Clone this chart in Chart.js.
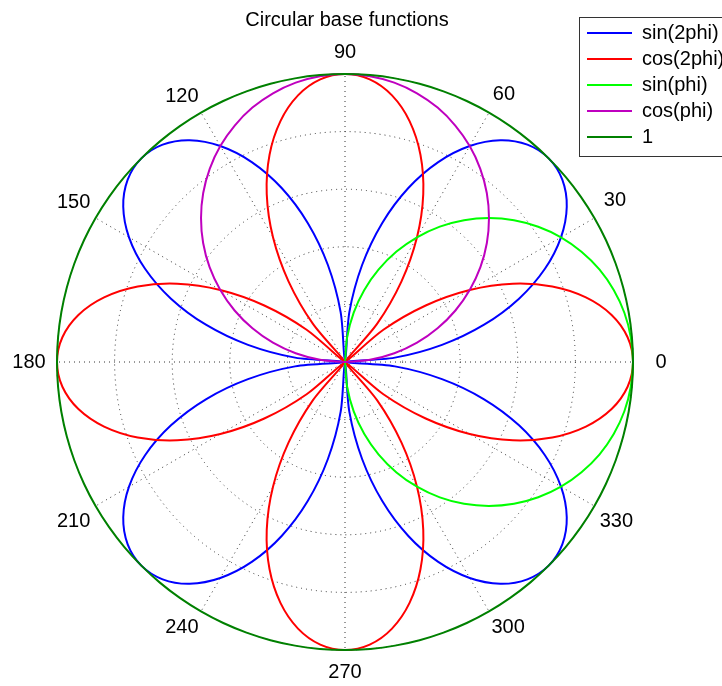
<!DOCTYPE html>
<html><head><meta charset="utf-8">
<script src="https://cdn.jsdelivr.net/npm/chart.js@4.4.1/dist/chart.umd.min.js"></script>
<style>html,body{margin:0;padding:0;background:#fff}canvas{display:block}</style>
</head><body>
<canvas id="c" width="722" height="686"></canvas>
<script>
// Direction of each sample (degrees, counter-clockwise from the right)
const angleDeg = [0,5,10,15,20,25,30,35,40,45,50,55,60,65,70,75,80,85,
  90,95,100,105,110,115,120,125,130,135,140,145,150,155,160,165,170,175,
  180,185,190,195,200,205,210,215,220,225,230,235,240,245,250,255,260,265,
  270,275,280,285,290,295,300,305,310,315,320,325,330,335,340,345,350,355];

// Radial distance of each curve in that direction
const sin2phi = [0,.174,.342,.5,.643,.766,.866,.94,.985,1,.985,.94,.866,.766,.643,.5,.342,.174,
  0,.174,.342,.5,.643,.766,.866,.94,.985,1,.985,.94,.866,.766,.643,.5,.342,.174,
  0,.174,.342,.5,.643,.766,.866,.94,.985,1,.985,.94,.866,.766,.643,.5,.342,.174,
  0,.174,.342,.5,.643,.766,.866,.94,.985,1,.985,.94,.866,.766,.643,.5,.342,.174];
const cos2phi = [1,.985,.94,.866,.766,.643,.5,.342,.174,0,.174,.342,.5,.643,.766,.866,.94,.985,
  1,.985,.94,.866,.766,.643,.5,.342,.174,0,.174,.342,.5,.643,.766,.866,.94,.985,
  1,.985,.94,.866,.766,.643,.5,.342,.174,0,.174,.342,.5,.643,.766,.866,.94,.985,
  1,.985,.94,.866,.766,.643,.5,.342,.174,0,.174,.342,.5,.643,.766,.866,.94,.985];
const sinphi = [1,.996,.985,.966,.94,.906,.866,.819,.766,.707,.643,.574,.5,.423,.342,.259,.174,.087,
  0,0,0,0,0,0,0,0,0,0,0,0,0,0,0,0,0,0,
  0,0,0,0,0,0,0,0,0,0,0,0,0,0,0,0,0,0,
  0,.087,.174,.259,.342,.423,.5,.574,.643,.707,.766,.819,.866,.906,.94,.966,.985,.996];
const cosphi = [0,.087,.174,.259,.342,.423,.5,.574,.643,.707,.766,.819,.866,.906,.94,.966,.985,.996,
  1,.996,.985,.966,.94,.906,.866,.819,.766,.707,.643,.574,.5,.423,.342,.259,.174,.087,
  0,0,0,0,0,0,0,0,0,0,0,0,0,0,0,0,0,0,
  0,0,0,0,0,0,0,0,0,0,0,0,0,0,0,0,0,0];
const one = [1,1,1,1,1,1,1,1,1,1,1,1,1,1,1,1,1,1,
  1,1,1,1,1,1,1,1,1,1,1,1,1,1,1,1,1,1,
  1,1,1,1,1,1,1,1,1,1,1,1,1,1,1,1,1,1,
  1,1,1,1,1,1,1,1,1,1,1,1,1,1,1,1,1,1];

const seriesNames = ['sin(2phi)','cos(2phi)','sin(phi)','cos(phi)','1'];
const seriesColors = ['#0000ff','#ff0000','#00ff00','#bf00bf','#008000'];
const seriesValues = [sin2phi, cos2phi, sinphi, cosphi, one];
const tickAngles = [0,30,60,90,120,150,180,210,240,270,300,330];
const radialTicks = [0,0.2,0.4,0.6,0.8,1];
const titleText = 'Circular base functions';

// Radar goes clockwise; reorder so angles run counter-clockwise from the right
const N = angleDeg.length;
const toRadar = arr => arr.map((_, k) => arr[(N - k) % N]);
const labels = toRadar(angleDeg).map(String);

Chart.defaults.font.family = '"Liberation Sans", Arial, Helvetica, sans-serif';
Chart.defaults.color = '#000';

const isTick = i => tickAngles.includes(+labels[i]);
const labelPad = (ctx) => {
  const i = ctx.index;
  if (!isTick(i)) return 0;
  const th = +labels[i];
  const w = 11.12 * String(th).length;
  const r = th * Math.PI / 180;
  const D = 313 + 3 * Math.cos(2 * r);
  return D - 288 - (w / 2) * Math.abs(Math.cos(r)) - 12 * Math.abs(Math.sin(r));
};

const boxPlugin = {
  id: 'boxPlugin',
  afterLayout(chart) {
    const lg = chart.legend;
    if (lg) {
      const w = lg.width;
      lg.left = 581; lg.right = 581 + w;
      lg.top = 17; lg.bottom = 686;
    }
    const t = chart.titleBlock;
    if (t) { t.left += 7; t.right += 7; }
  },
  afterDraw(chart) {
    const c = chart.ctx;
    c.save();
    c.strokeStyle = '#333';
    c.lineWidth = 1;
    c.strokeRect(579.5, 17.5, 170, 139);
    c.restore();
  }
};

new Chart(document.getElementById('c'), {
  type: 'radar',
  data: {
    labels: labels,
    datasets: seriesNames.map((name, i) => ({
      label: name,
      data: toRadar(seriesValues[i]),
      borderColor: seriesColors[i],
      backgroundColor: seriesColors[i],
      borderWidth: 2,
      fill: false,
      tension: 0.33,
      pointRadius: 0,
      pointHitRadius: 0,
      order: seriesNames.length - 1 - i
    }))
  },
  options: {
    responsive: false,
    animation: false,
    events: [],
    layout: { padding: { top: 0, left: 0, right: 42, bottom: 2 } },
    plugins: {
      title: {
        display: true, text: titleText,
        font: { size: 20, weight: 'normal' }, color: '#000',
        padding: { top: 8, bottom: 8 }
      },
      legend: {
        position: 'chartArea',
        align: 'start',
        labels: {
          usePointStyle: true, pointStyle: 'line', pointStyleWidth: 45,
          font: { size: 20 }, color: '#000', padding: 6,
          sort: (a, b) => a.datasetIndex - b.datasetIndex
        }
      },
      tooltip: { enabled: false }
    },
    scales: {
      r: {
        min: 0, max: 1,
        startAngle: 90,
        ticks: { display: false, stepSize: 0.2 },
        grid: { circular: true, color: '#333', lineWidth: 1, borderDash: [1, 4] },
        border: { dash: [1, 4] },
        angleLines: {
          display: true,
          color: ctx => isTick(ctx.index) ? '#333' : 'rgba(0,0,0,0)',
          lineWidth: ctx => isTick(ctx.index) ? 1 : 0,
          borderDash: [1, 4]
        },
        pointLabels: {
          display: true,
          font: { size: 20 },
          color: '#000',
          padding: labelPad,
          callback: (lab) => tickAngles.includes(+lab) ? lab : ''
        }
      }
    }
  },
  plugins: [boxPlugin]
});
</script>
</body></html>
